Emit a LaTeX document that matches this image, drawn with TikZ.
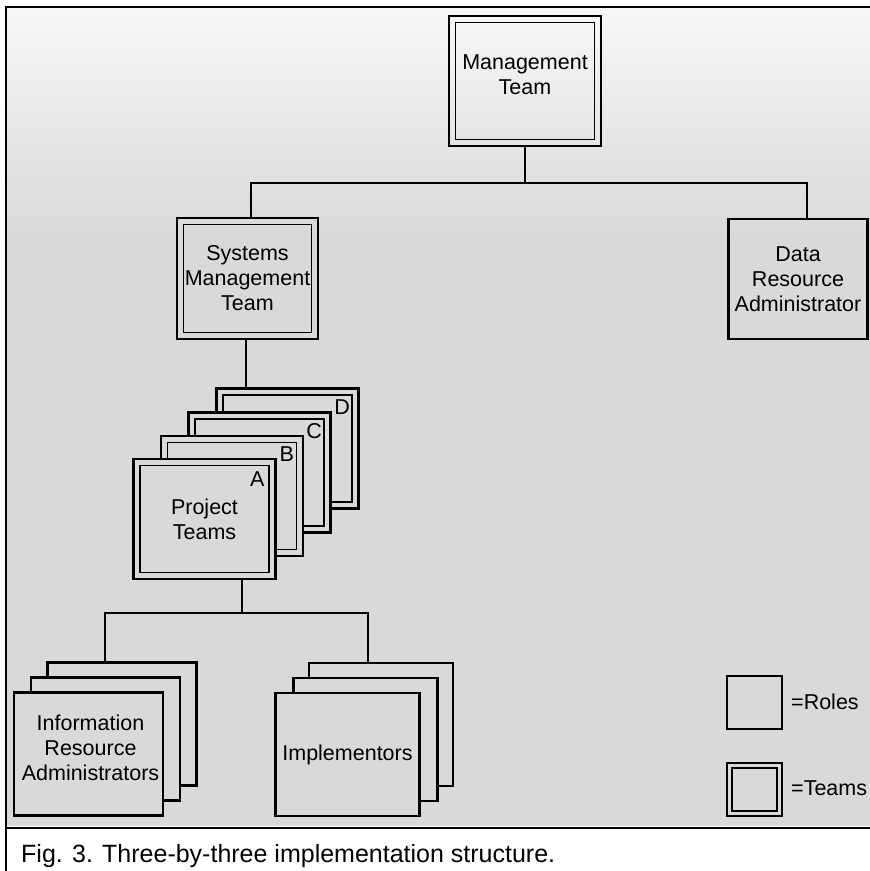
\documentclass[tikz,border=0pt]{standalone}
\usepackage{fontspec}
\setmainfont{Liberation Sans}
\usetikzlibrary{calc}
\definecolor{bgc}{gray}{0.85}
\newcommand\boxfont{\fontsize{21.5}{25}\selectfont}
\tikzset{
  role/.style={draw=black, line width=2.4pt, rectangle, inner sep=0pt, align=center, font=\boxfont},
  team/.style={role, path picture={\draw[line width=1.7pt]
      ([shift={(#1,-#1)}]path picture bounding box.north west) rectangle
      ([shift={(-#1,#1)}]path picture bounding box.south east);}},
  team/.default=6.5pt,
  sheet/.style={fill=bgc},
  conn/.style={line width=2pt},
  txt/.style={font=\boxfont, align=center, inner sep=0pt},
  frame/.style={line width=1.8pt},
}
\begin{document}
\begin{tikzpicture}[x=1pt,y=-1pt]
\useasboundingbox (0,0) rectangle (870,871);
% background halftone
\fill[bgc] (6,7) rectangle (870,826);
\shade[top color=black!3, bottom color=bgc] (6,7) rectangle (870,240);
% frame
\draw[frame] (870,7) -- (6,7) -- (6,871);
\draw[frame] (6,828) -- (870,828);

% top level
\node[team, minimum width=152pt, minimum height=130pt] (mgmt) at (525,81) {};
\node[txt] (mgmtT) at (525,75) {Management\\Team};
\node[team, minimum width=141pt, minimum height=121pt] (sys) at (247.5,278.5) {Systems\\Management\\Team};
\node[role, minimum width=139pt, minimum height=120pt] (dra) at (798,279) {Data\\Resource\\Administrator};

\coordinate (busA) at (525,183);
\draw[conn] (mgmt.south) -- (busA);
\draw[conn] ([xshift=3.5pt]sys.north) |- (busA) -| ([xshift=9pt]dra.north);

% project teams stack
\node[team, sheet, minimum width=142pt, minimum height=120pt] (pD) at (287.5,448.5) {};
\draw[conn] ([xshift=-2pt]sys.south) -- ([xshift=-2pt]sys.south |- pD.north);
\node[txt] (lD) at ($(pD.north east)+(-17.5,19.5)$) {D};
\node[team, sheet, minimum width=142pt, minimum height=120pt] (pC) at (259.5,472.5) {};
\node[txt] (lC) at ($(pC.north east)+(-17.5,19.5)$) {C};
\node[team, sheet, minimum width=142pt, minimum height=120pt] (pB) at (232,496) {};
\node[txt] (lB) at ($(pB.north east)+(-17.5,19.5)$) {B};
\node[team, sheet, minimum width=142pt, minimum height=120pt] (pA) at (204.5,519) {Project\\Teams};
\node[txt] (lA) at ($(pA.north east)+(-19.5,21.5)$) {A};

% lower bus
\coordinate (busB) at (242,613);
\draw[conn] ([xshift=37.5pt]pA.south) -- (busB);

% IRA stack
\node[role, sheet, minimum width=149pt, minimum height=123pt] (iraC) at (122,724) {};
\node[role, sheet, minimum width=149pt, minimum height=123pt] (iraB) at (105.4,739) {};
\node[role, sheet, minimum width=149pt, minimum height=123pt] (iraA) at (88.4,754) {};
\node[txt] (iraT) at (90.5,748) {Information\\Resource\\Administrators};

% Implementors stack
\node[role, sheet, minimum width=144pt, minimum height=123pt] (impC) at (380.8,724.2) {};
\node[role, sheet, minimum width=144pt, minimum height=123pt] (impB) at (365.3,739.2) {};
\node[role, sheet, minimum width=144pt, minimum height=123pt] (impA) at (347.5,754.5) {Implementors};

\draw[conn] ([xshift=-17pt]iraC.north) |- (busB) -| ([xshift=-12.8pt]impC.north);

% legend
\node[role, minimum width=55pt, minimum height=53pt] (legR) at (754.2,702.5) {};
\node[txt, anchor=west] (legRT) at (791,702) {=Roles};
\node[team=5pt, minimum width=55.5pt, minimum height=53pt] (legT) at (754.5,789.2) {};
\node[txt, anchor=west] (legTT) at (791,788) {=Teams};

% caption
\node[anchor=base west, inner sep=0pt, font=\fontsize{25}{30}\selectfont] (cap) at (21,862) {Fig. 3. Three-by-three implementation structure.};
\end{tikzpicture}
\end{document}
